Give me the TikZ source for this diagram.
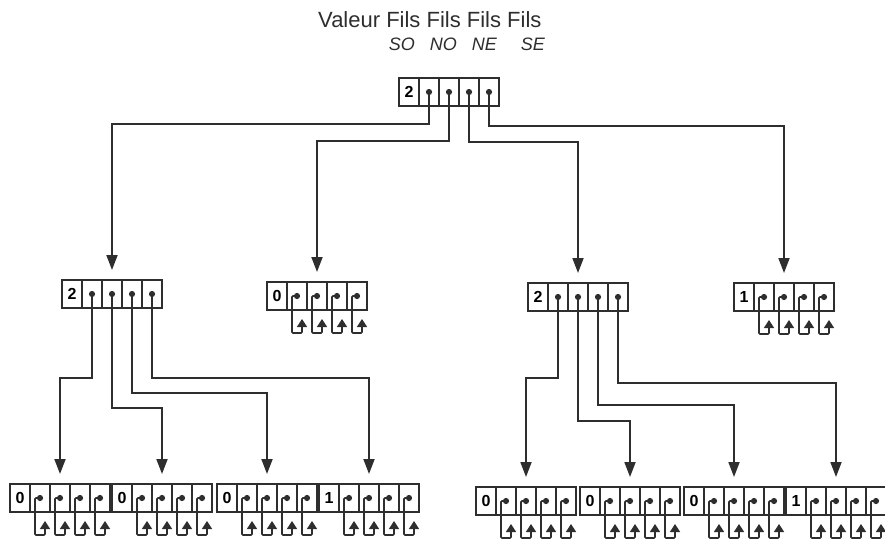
\documentclass[tikz,border=0pt]{standalone}
\usepackage{fontspec}
\setmainfont{Liberation Sans}
\usepackage{tikz}
\usetikzlibrary{arrows.meta,positioning}
\definecolor{trait}{HTML}{2E2E2E}

% enregistrement : nom, x du milieu, y, valeur
\newcommand{\enreg}[4]{%
  \node[case] (#1-0) at (#2-40,#3) {#4};
  \foreach \i [count=\j from 0] in {1,...,4}
    \node[case,right=0pt of #1-\j] (#1-\i) {};
  \foreach \i in {1,...,4}
    \fill[trait] (#1-\i.center) circle (3.1pt);
}
% pointeur vide
\newcommand{\vide}[1]{%
  \draw[nil] (#1.center) -- ++(-5,0) -- ++(0,37) -- ++(10,0) -- ++(0,-14);
}

\begin{document}
\begin{tikzpicture}[x=1pt,y=-1pt,
  case/.style={draw=trait,line width=1.5pt,minimum width=20pt,minimum height=28pt,
    inner sep=0pt,outer sep=0pt,font=\bfseries\fontsize{16}{16}\selectfont},
  fleche/.style={draw=trait,line width=1.8pt,-{Triangle[width=11pt,length=15pt]},shorten >=10pt},
  nil/.style={draw=trait,line width=1.6pt,-{Triangle[width=10pt,length=8pt]},rounded corners=1pt},
  titre/.style={text=trait,inner sep=0pt}]
  \useasboundingbox (0,0) rectangle (885,542);

  % Legende
  \node[titre,anchor=base west,font=\fontsize{22}{22}\selectfont] (valeur) at (318,27) {Valeur Fils Fils Fils Fils};
  \node[titre,anchor=base east,font=\itshape\fontsize{18}{18}\selectfont] (tso) at (415,50) {SO};
  \node[titre,anchor=base east,font=\itshape\fontsize{18}{18}\selectfont] (tno) at (457,50) {NO};
  \node[titre,anchor=base east,font=\itshape\fontsize{18}{18}\selectfont] (tne) at (497,50) {NE};
  \node[titre,anchor=base east,font=\itshape\fontsize{18}{18}\selectfont] (tse) at (545,50) {SE};

  % Racine
  \enreg{r}{449}{92}{2}

  % Niveau 1
  \enreg{n1}{112}{294}{2}
  \enreg{n2}{317}{296}{0}
  \enreg{n3}{578}{297}{2}
  \enreg{n4}{784}{297}{1}

  % Niveau 2
  \enreg{n11}{60}{498}{0}
  \enreg{n12}{162}{498}{0}
  \enreg{n13}{267}{498}{0}
  \enreg{n14}{369}{498}{1}
  \enreg{n31}{526}{501}{0}
  \enreg{n32}{630}{501}{0}
  \enreg{n33}{734}{501}{0}
  \enreg{n34}{836}{501}{1}

  % Fils de la racine
  \draw[fleche] (r-1.center) -- ++(0,32) -| (n1-2.north);
  \draw[fleche] (r-2.center) -- ++(0,49) -| (n2-2.north);
  \draw[fleche] (r-3.center) -- ++(0,50) -| (n3-2.north);
  \draw[fleche] (r-4.center) -- ++(0,34) -| (n4-2.north);

  % Fils de n1
  \draw[fleche] (n1-1.center) -- ++(0,84) -| (n11-2.north);
  \draw[fleche] (n1-2.center) -- ++(0,114) -| (n12-2.north);
  \draw[fleche] (n1-3.center) -- ++(0,99) -| (n13-2.north);
  \draw[fleche] (n1-4.center) -- ++(0,84) -| (n14-2.north);

  % Fils de n3
  \draw[fleche] (n3-1.center) -- ++(0,81) -| (n31-2.north);
  \draw[fleche] (n3-2.center) -- ++(0,124) -| (n32-2.north);
  \draw[fleche] (n3-3.center) -- ++(0,108) -| (n33-2.north);
  \draw[fleche] (n3-4.center) -- ++(0,86) -| (n34-2.north);

  % Feuilles : pointeurs vides
  \foreach \f in {n2,n4,n11,n12,n13,n14,n31,n32,n33,n34}
    \foreach \i in {1,...,4}
      \vide{\f-\i};
\end{tikzpicture}
\end{document}
